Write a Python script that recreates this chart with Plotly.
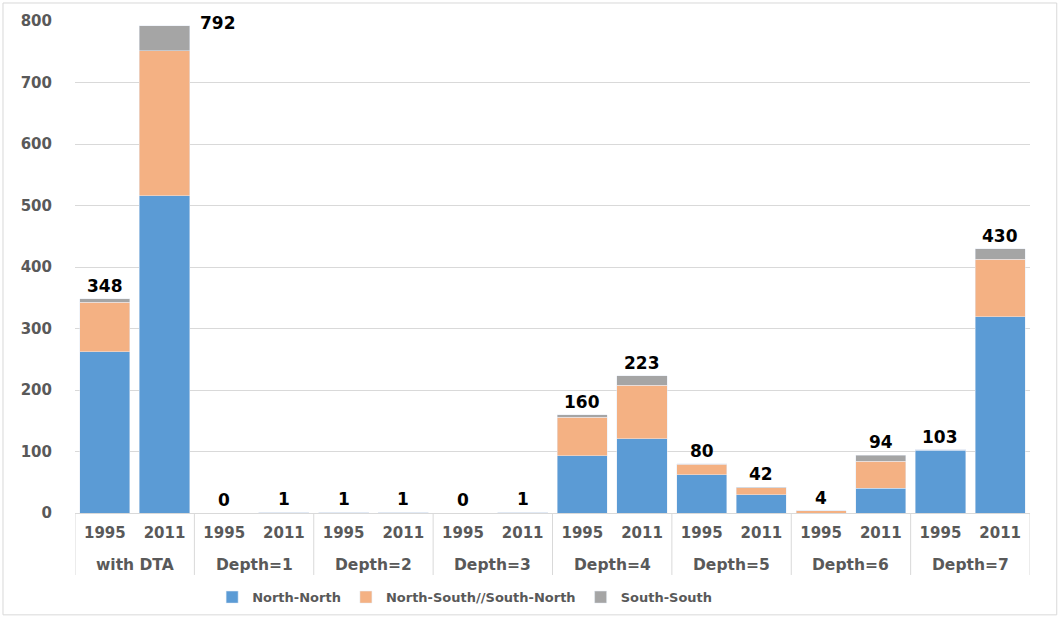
import plotly.graph_objects as go

groups = ["with DTA", "Depth=1", "Depth=2", "Depth=3", "Depth=4", "Depth=5", "Depth=6", "Depth=7"]
years = ["1995", "2011"]

north_north = [262, 516, 0, 1, 1, 1, 0, 1, 93, 121, 62, 30, 0, 40, 102, 319]
north_south = [81, 236, 0, 0, 0, 0, 0, 0, 63, 87, 17, 11, 4, 44, 1, 94]
south_south = [5, 40, 0, 0, 0, 0, 0, 0, 4, 15, 1, 1, 0, 10, 0, 17]
totals = [348, 792, 0, 1, 1, 1, 0, 1, 160, 223, 80, 42, 4, 94, 103, 430]

x_year = [y for _ in groups for y in years]
xi = list(range(len(x_year)))
n_years = len(years)

font_family = "DejaVu Sans, sans-serif"
grey = "#595959"
line_grey = "#D9D9D9"

fig = go.Figure()
fig.add_trace(go.Bar(x=xi, y=north_north, name="North-North", marker_color="#5B9BD5"))
fig.add_trace(go.Bar(x=xi, y=north_south, name="North-South//South-North", marker_color="#F4B183"))
fig.add_trace(go.Bar(x=xi, y=south_south, name="South-South", marker_color="#A5A5A5"))

annotations = []
max_total = max(totals)
for i, t in enumerate(totals):
    if t == max_total:
        annotations.append(dict(x=i, y=t, xref="x", yref="y", text=str(t), showarrow=False,
                                xanchor="left", yanchor="middle", xshift=33, yshift=3,
                                font=dict(family=font_family, size=17, color="#000000", weight="bold")))
    else:
        annotations.append(dict(x=i, y=t, xref="x", yref="y", text=str(t), showarrow=False,
                                xanchor="center", yanchor="bottom", yshift=1,
                                font=dict(family=font_family, size=17, color="#000000", weight="bold")))

shapes = []
for gi, g in enumerate(groups):
    center = gi * n_years + (n_years - 1) / 2
    annotations.append(dict(x=center, y=-0.1057, xref="x", yref="paper", text=g, showarrow=False,
                            xanchor="center", yanchor="middle",
                            font=dict(family=font_family, size=15.5, color=grey, weight="bold")))
for k in range(len(groups) + 1):
    xb = k * n_years - 0.5
    shapes.append(dict(type="line", xref="x", yref="paper", x0=xb, x1=xb, y0=0, y1=-0.126,
                       line=dict(color=line_grey, width=1)))
shapes.append(dict(type="rect", xref="paper", yref="paper",
                   x0=-0.0754, x1=1.028, y0=-0.207, y1=1.0366,
                   line=dict(color=line_grey, width=1), layer="below"))

fig.update_layout(
    width=1059, height=620,
    barmode="stack", bargap=0.16,
    plot_bgcolor="white", paper_bgcolor="white",
    margin=dict(l=75, r=29, t=21, b=107, autoexpand=False),
    font=dict(family=font_family, size=14, color=grey),
    legend=dict(orientation="h", x=0.408, xanchor="center", y=-0.171, yanchor="middle",
                font=dict(size=13, color=grey, weight="bold"), traceorder="normal",
                itemwidth=30, bgcolor="rgba(0,0,0,0)"),
    annotations=annotations,
    shapes=shapes,
)
fig.update_xaxes(
    range=[-0.5, len(xi) - 0.5], tickmode="array", tickvals=xi, ticktext=x_year,
    showline=True, linecolor=line_grey, linewidth=1, showgrid=False, zeroline=False,
    ticks="", ticklabelstandoff=6,
    tickfont=dict(size=15, color=grey, weight="bold"), automargin=False,
)
fig.update_yaxes(
    range=[0, 800], dtick=100, showgrid=True, gridcolor=line_grey, gridwidth=1,
    zeroline=False, showline=False, ticks="", ticklabelstandoff=22,
    tickfont=dict(size=15, color=grey, weight="bold"), automargin=False,
)

fig.write_html("out.html")
